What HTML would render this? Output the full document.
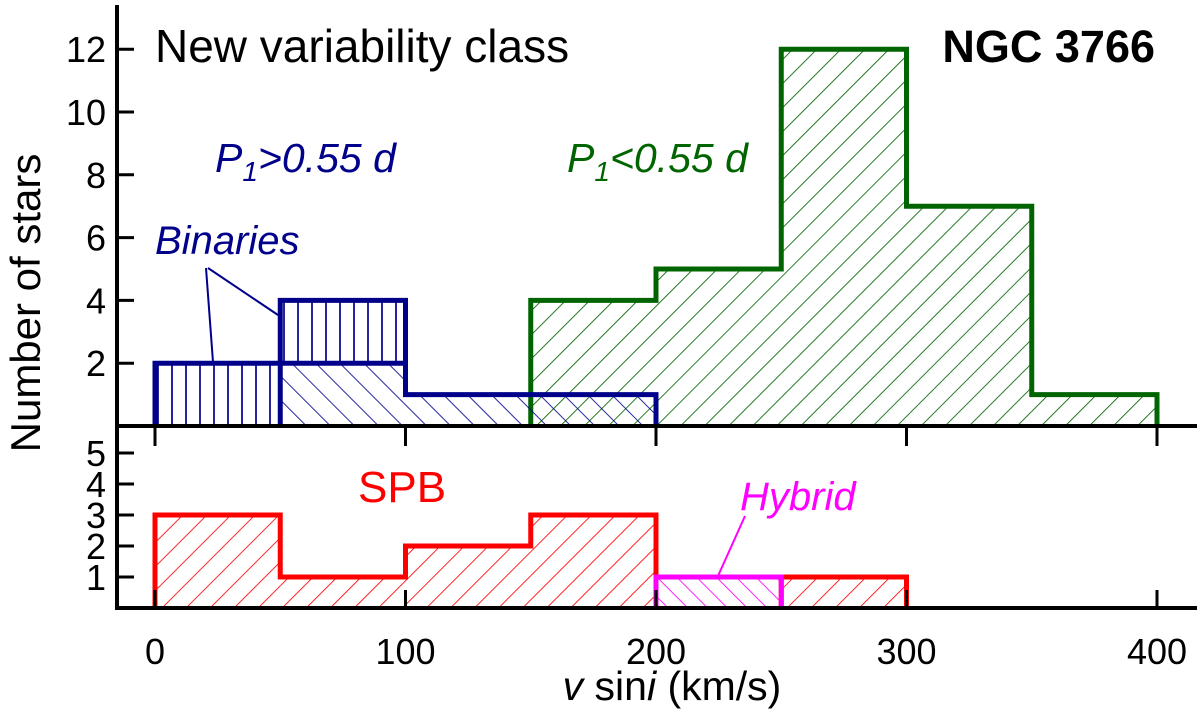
<!DOCTYPE html>
<html><head><meta charset="utf-8"><style>body{margin:0;background:#fff}svg{display:block}text{font-family:"Liberation Sans",sans-serif}</style></head>
<body>
<svg id="c" width="1200" height="716" xmlns="http://www.w3.org/2000/svg">
<defs>
<pattern id="pg" width="17" height="17" patternUnits="userSpaceOnUse" patternTransform="rotate(45)"><line x1="0" y1="0" x2="0" y2="17" stroke="#006400" stroke-width="1.7"/></pattern>
<pattern id="pr" width="17" height="17" patternUnits="userSpaceOnUse" patternTransform="rotate(45)"><line x1="0" y1="0" x2="0" y2="17" stroke="#f00" stroke-width="1.7"/></pattern>
<pattern id="pb" width="17" height="17" patternUnits="userSpaceOnUse" patternTransform="rotate(-45)"><line x1="0" y1="0" x2="0" y2="17" stroke="#00008b" stroke-width="1.7"/></pattern>
<pattern id="pm" width="14" height="14" patternUnits="userSpaceOnUse" patternTransform="rotate(-45)"><line x1="0" y1="0" x2="0" y2="14" stroke="#f0f" stroke-width="1.7"/></pattern>
<pattern id="pv" width="14" height="14" patternUnits="userSpaceOnUse"><line x1="4" y1="0" x2="4" y2="14" stroke="#00008b" stroke-width="1.7"/></pattern>
</defs>
<g id="marks"></g>
<g stroke="#000" stroke-width="4" fill="none">
<line x1="117" y1="5" x2="117" y2="610"/>
<line x1="115" y1="426" x2="1197" y2="426"/>
<line x1="115" y1="608" x2="1197" y2="608"/>
</g>
<g id="ticks" stroke="#000" stroke-width="3"></g>
<g id="labels" font-size="36"></g>
<text x="155" y="62" font-size="46">New variability class</text>
<text x="1155" y="62" font-size="45" font-weight="bold" text-anchor="end">NGC 3766</text>
<text x="215" y="172" font-size="41" font-style="italic" fill="#00008b">P<tspan font-size="28" dy="9">1</tspan><tspan dy="-9">&gt;0.55 d</tspan></text>
<text x="567" y="172" font-size="41" font-style="italic" fill="#006400">P<tspan font-size="28" dy="9">1</tspan><tspan dy="-9">&lt;0.55 d</tspan></text>
<text x="155" y="254" font-size="40" font-style="italic" fill="#00008b">Binaries</text>
<g stroke="#00008b" stroke-width="2"><line x1="206" y1="268" x2="213" y2="362"/><line x1="208" y1="268" x2="278" y2="315"/></g>
<text x="358" y="502" font-size="44" fill="#f00">SPB</text>
<text x="740" y="510" font-size="40" font-style="italic" fill="#f0f">Hybrid</text>
<line x1="745" y1="516" x2="718" y2="576" stroke="#f0f" stroke-width="2"/>
<text transform="translate(40,303) rotate(-90)" font-size="42" text-anchor="middle">Number of stars</text>
<text x="672" y="700" font-size="41" text-anchor="middle"><tspan font-style="italic">v</tspan> sin<tspan font-style="italic">i</tspan> (km/s)</text>
</svg>
<script>
const binEdges=[0,50,100,150,200,250,300,350,400];
const greenCounts=[0,0,0,4,5,12,7,1];
const blueCounts=[0,2,1,1,0,0,0,0];
const binaryCounts=[2,2,0,0,0,0,0,0];
const redCounts=[3,1,2,3,0,1,0,0];
const hybridCounts=[0,0,0,0,1,0,0,0];
const xTicks=[0,100,200,300,400];
const yTopTicks=[2,4,6,8,10,12];
const yBotTicks=[1,2,3,4,5];
const NS="http://www.w3.org/2000/svg";
const X=v=>155+v*(1157-155)/400;
const YT=v=>426-v*31.4;
const YB=v=>608-v*31;
const marks=document.getElementById('marks');
function mk(tag,attrs,parent){const e=document.createElementNS(NS,tag);for(const k in attrs)e.setAttribute(k,attrs[k]);parent.appendChild(e);return e;}
function bars(counts,base,Y,fill,stroke,name){
  const bs=counts.map((c,i)=>base?base[i]:0);
  counts.forEach((c,i)=>{if(!c)return;
    const r=mk('rect',{x:X(binEdges[i]),y:Y(bs[i]+c),width:X(binEdges[i+1])-X(binEdges[i]),height:Y(bs[i])-Y(bs[i]+c),fill:fill},marks);
    
    });
  let d='';let open=false;
  counts.forEach((c,i)=>{
    const t=bs[i]+c;
    if(c){
      if(!open){d+=`M${X(binEdges[i])},${Y(bs[i])}`;open=true;}
      d+=`V${Y(t)}H${X(binEdges[i+1])}`;
      const nxt=counts[i+1];
      if(!nxt){d+=`V${Y(bs[i])}`;open=false;}
    }
  });
  const p=mk('path',{d:d,fill:'none',stroke:stroke,'stroke-width':5,'stroke-linejoin':'miter'},marks);
  
  
}
bars(greenCounts,null,YT,'url(#pg)','#006400','short-period');
bars(blueCounts,null,YT,'url(#pb)','#00008b','long-period');
bars(binaryCounts,blueCounts,YT,'url(#pv)','#00008b','binaries');
bars(redCounts,null,YB,'url(#pr)','#f00','spb');
bars(hybridCounts,null,YB,'url(#pm)','#f0f','hybrid');
const tk=document.getElementById('ticks'),lb=document.getElementById('labels');
xTicks.forEach(v=>{
  const a=mk('line',{x1:X(v),y1:426,x2:X(v),y2:446},tk);
  const b=mk('line',{x1:X(v),y1:608,x2:X(v),y2:590},tk);
  const t=mk('text',{x:X(v),y:664,'text-anchor':'middle'},lb);t.textContent=v;});
yTopTicks.forEach(v=>{
  const a=mk('line',{x1:117,y1:YT(v),x2:134,y2:YT(v)},tk);
  const t=mk('text',{x:106,y:YT(v)+13,'text-anchor':'end'},lb);t.textContent=v;});
yBotTicks.forEach(v=>{
  const a=mk('line',{x1:117,y1:YB(v),x2:134,y2:YB(v)},tk);
  const t=mk('text',{x:106,y:YB(v)+13,'text-anchor':'end'},lb);t.textContent=v;});
</script>
</body></html>
